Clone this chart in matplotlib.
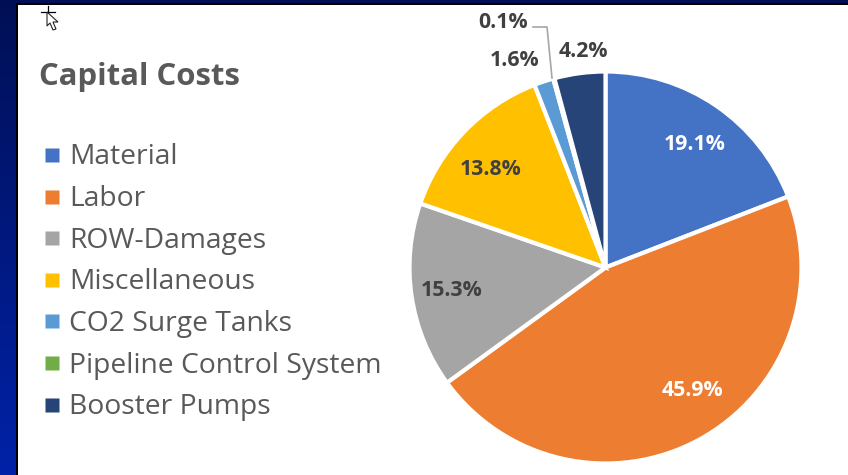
import numpy as np
import matplotlib
matplotlib.use("Agg")
import matplotlib.pyplot as plt

plt.rcParams['font.family'] = ['Open Sans', 'Noto Sans', 'DejaVu Sans']

categories = ['Material', 'Labor', 'ROW-Damages', 'Miscellaneous',
              'CO2 Surge Tanks', 'Pipeline Control System', 'Booster Pumps']
values = [19.1, 45.9, 15.3, 13.8, 1.6, 0.1, 4.2]
colors = ['#4472C4', '#ED7D31', '#A5A5A5', '#FFC000', '#5B9BD5', '#70AD47', '#264478']
label_colors = ['white', 'white', '#404040', '#404040', '#404040', '#404040', '#404040']
label_xy = [(695, 144.5), (692, 390), (452, 291), (490.5, 169.5), (515, 60.5), (503.5, 23), (583, 51.5)]

W, H = 848, 475
fig = plt.figure(figsize=(W / 100, H / 100), dpi=100, facecolor='black')

# slide background behind the white chart area
bg = fig.add_axes([0, 0, 1, 1])
grad = np.linspace(0, 1, 256).reshape(-1, 1)
cmap = matplotlib.colors.LinearSegmentedColormap.from_list('slide', ['#000F55', '#0022A8'])
bg.imshow(grad, aspect='auto', cmap=cmap, extent=(0, W, H, 0))
bg.set_axis_off()

ax = fig.add_axes([0, 0, 1, 1])
ax.patch.set_alpha(0)
ax.pie(values, colors=colors, center=(605.5, H - 267.5), radius=196, startangle=90,
       counterclock=False, frame=True,
       wedgeprops={'edgecolor': 'white', 'linewidth': 3})
ax.set_xlim(0, W)
ax.set_ylim(0, H)
ax.set_axis_off()


def py(y):
    return H - y


# white panel and its black edge
ax.add_patch(plt.Rectangle((16, 0), W - 16, py(3), fc='black', ec='none', zorder=0))
ax.add_patch(plt.Rectangle((18, 0), W - 18, py(5), fc='white', ec='none', zorder=0.5))

ax.text(39, py(77), 'Capital Costs', fontsize=22.4, fontweight='bold', color='#595959',
        ha='left', va='center')

for i, name in enumerate(categories):
    y = 155 + i * 41.6
    ax.plot([52], [py(y)], marker='s', ms=9.5, color=colors[i], mec='none', zorder=3)
    ax.text(69, py(y + 2.5), name, fontsize=20.3, color='#595959', ha='left', va='center')

for v, xy, c in zip(values, label_xy, label_colors):
    ax.text(xy[0], py(xy[1]), f'{v:.1f}%', fontsize=15.3, fontweight='bold', color=c,
            ha='center', va='center', zorder=4)

# leader line for the thinnest slice
ax.plot([533, 547, 552], [py(27), py(27), py(78)], color='#A6A6A6', lw=1.2, zorder=4)

# mouse pointer near the top corner
arrow = np.array([(47, 12), (47, 26), (50, 23), (53, 30), (56, 29), (53, 22), (58, 22)])
ax.fill(arrow[:, 0], H - arrow[:, 1], fc='white', ec='#222222', lw=0.8, zorder=5)
ax.plot([41, 55], [py(12), py(12)], color='black', lw=0.9, zorder=4)
ax.plot([48, 48], [py(6), py(19)], color='black', lw=0.9, zorder=4)

fig.savefig('out.png', dpi=100, facecolor=fig.get_facecolor())
